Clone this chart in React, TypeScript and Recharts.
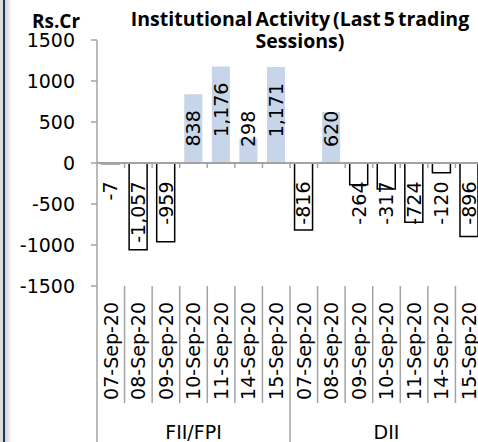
import React from "react";
import { BarChart, Bar, XAxis, YAxis, Cell, LabelList, ReferenceLine } from "recharts";

const DATES = ["07-Sep-20", "08-Sep-20", "09-Sep-20", "10-Sep-20", "11-Sep-20", "14-Sep-20", "15-Sep-20"];
const GROUPS = ["FII/FPI", "DII"];
const FII_VALUES = [-7, -1057, -959, 838, 1176, 298, 1171];
const DII_VALUES = [-816, 620, -264, -317, -724, -120, -896];
const Y_TICKS = [-1500, -1000, -500, 0, 500, 1000, 1500];
const TITLE_LINES = ["Institutional Activity (Last 5 trading", "Sessions)"];
const UNIT_LABEL = "Rs.Cr";

const data = [
  ...FII_VALUES.map((v, i) => ({ cat: `${GROUPS[0]}|${DATES[i]}`, value: v })),
  ...DII_VALUES.map((v, i) => ({ cat: `${GROUPS[1]}|${DATES[i]}`, value: v })),
];

const CHART_W = 490;
const CHART_H = 442;
const MARGIN = { top: 40, right: 7, bottom: 0, left: 0 };
const Y_W = 97;
const X_H = 156;
const PLOT_W = CHART_W - MARGIN.left - MARGIN.right - Y_W;
const BAND = PLOT_W / data.length;

const FONT = "'DejaVu Sans', sans-serif";
const TITLE_FONT = "'Open Sans', sans-serif";
const FS = 19;
const AXIS_GRAY = "#a3a3a3";
const POS_FILL = "#c6d5ea";

const CHAR_W: Record<string, number> = { ",": 0.318, "-": 0.361 };
const textLen = (s: string) =>
  s.split("").reduce((acc, c) => acc + (CHAR_W[c] ?? 0.636), 0) * FS;

const BarValueLabel = (props: any) => {
  const { x, y, width, height, value } = props;
  const top = Math.min(y, y + height);
  const bottom = Math.max(y, y + height);
  const cx = x + width / 2;
  const v = Number(value);
  const text = v.toLocaleString("en-US");
  if (v >= 0) {
    const zero = bottom;
    const len = textLen(text);
    const labelBottom = Math.min(top + 16 + len, zero - 16);
    return (
      <text
        transform={`translate(${cx},${labelBottom}) rotate(-90)`}
        textAnchor="start"
        dy="0.36em"
        fontFamily={FONT}
        fontSize={FS}
        fill="#000"
      >
        {text}
      </text>
    );
  }
  const zero = top;
  return (
    <text
      transform={`translate(${cx},${zero + 18.5}) rotate(-90)`}
      textAnchor="end"
      dy="0.36em"
      fontFamily={FONT}
      fontSize={FS}
      fill="#000"
    >
      {text}
    </text>
  );
};

const CategoryTick = (props: any) => {
  const { x, y, payload, index } = props;
  const idx = typeof payload?.index === "number" ? payload.index : index;
  const half = typeof payload?.offset === "number" && payload.offset > 0 ? payload.offset : BAND / 2;
  const [group, date] = String(payload.value).split("|");
  const left = x - half;
  const per = DATES.length;
  const groupStart = idx % per === 0;
  const groupMid = idx % per === Math.floor(per / 2);
  return (
    <g>
      <line x1={left} x2={left} y1={y} y2={groupStart ? CHART_H : y + 117} stroke={AXIS_GRAY} strokeWidth={1.5} />
      <text
        transform={`translate(${x},${y + 16}) rotate(-90)`}
        textAnchor="end"
        dy="0.36em"
        fontFamily={FONT}
        fontSize={FS}
        fill="#000"
      >
        {date}
      </text>
      {groupMid && (
        <text x={x} y={y + 153} textAnchor="middle" fontFamily={FONT} fontSize={FS} fill="#000">
          {group}
        </text>
      )}
    </g>
  );
};

const ZeroAxis = (props: any) => {
  const { x1, x2, y1 } = props;
  const step = (x2 - x1) / data.length;
  return (
    <g>
      <line x1={x1} x2={x2} y1={y1} y2={y1} stroke={AXIS_GRAY} strokeWidth={2} />
      {data.slice(1).map((_, i) => (
        <line
          key={i}
          x1={x1 + step * (i + 1)}
          x2={x1 + step * (i + 1)}
          y1={y1}
          y2={y1 + 5}
          stroke={AXIS_GRAY}
          strokeWidth={1.5}
        />
      ))}
    </g>
  );
};

export default function App() {
  return (
    <div
      style={{
        position: "absolute",
        left: 0,
        top: 0,
        width: 478,
        height: 442,
        overflow: "hidden",
        background: "#fff",
      }}
    >
      <div style={{ position: "absolute", left: 0, top: 0, width: 3, height: 442, background: "#dedede" }} />
      <div style={{ position: "absolute", left: 3, top: 0, width: 2, height: 442, background: "#1d3557" }} />
      <div
        style={{
          position: "absolute",
          left: 5,
          top: 0,
          width: 7,
          height: 442,
          background: "linear-gradient(to right, #d2d2d2, #ffffff)",
        }}
      />
      <div style={{ position: "absolute", left: 0, top: 0 }}>
        <BarChart width={CHART_W} height={CHART_H} data={data} margin={MARGIN} barCategoryGap="16.5%">
          <XAxis
            dataKey="cat"
            height={X_H}
            interval={0}
            tickSize={0}
            tickMargin={0}
            axisLine={false}
            tickLine={false}
            tick={<CategoryTick />}
          />
          <YAxis
            width={Y_W}
            domain={[-1500, 1500]}
            ticks={Y_TICKS}
            type="number"
            allowDataOverflow
            axisLine={{ stroke: AXIS_GRAY, strokeWidth: 1.5 }}
            tickLine={{ stroke: AXIS_GRAY, strokeWidth: 1.5 }}
            tickSize={6}
            tickMargin={16}
            tick={{ fontFamily: FONT, fontSize: FS, fill: "#000" }}
          />
          <Bar dataKey="value" isAnimationActive={false}>
            {data.map((d, i) => (
              <Cell
                key={i}
                fill={d.value >= 0 ? POS_FILL : "#ffffff"}
                stroke={d.value >= 0 ? "none" : "#000"}
                strokeWidth={d.value >= 0 ? 0 : 1.5}
              />
            ))}
            <LabelList dataKey="value" content={<BarValueLabel />} />
          </Bar>
          <ReferenceLine y={0} shape={<ZeroAxis />} />
        </BarChart>
      </div>
      <svg style={{ position: "absolute", left: 0, top: 0 }} width={478} height={442}>
        <text
          x={56}
          y={28}
          textAnchor="middle"
          fontFamily={TITLE_FONT}
          fontWeight="bold"
          fontSize={19}
          fill="#000"
        >
          {UNIT_LABEL}
        </text>
        {TITLE_LINES.map((line, i) => (
          <text
            key={i}
            x={300}
            y={26 + i * 21.5}
            textAnchor="middle"
            fontFamily={TITLE_FONT}
            fontWeight="bold"
            fontSize={19.5}
            wordSpacing={-2}
            fill="#000"
          >
            {line}
          </text>
        ))}
      </svg>
    </div>
  );
}
